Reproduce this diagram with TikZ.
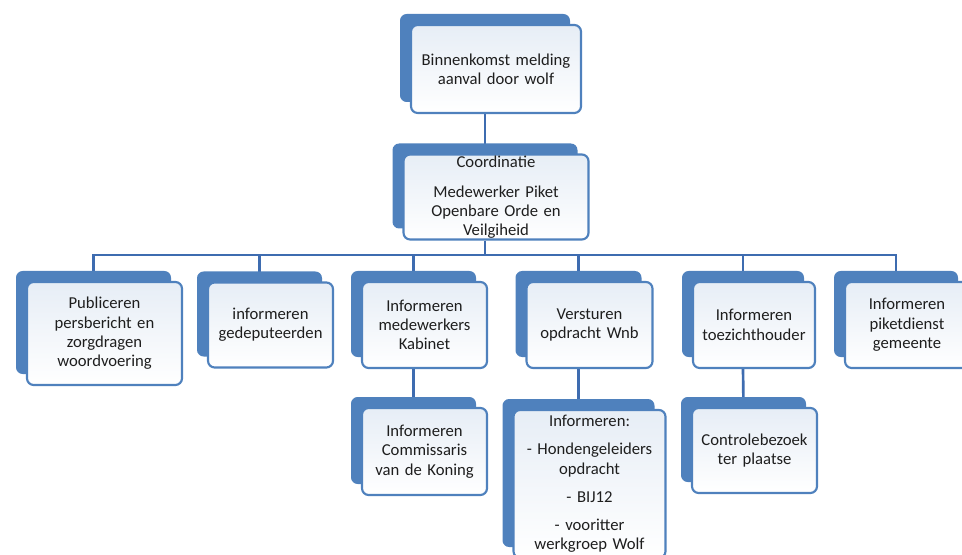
\documentclass[tikz,border=0pt]{standalone}
\usepackage{fontspec}
\setmainfont{Carlito}
\usetikzlibrary{shadows,backgrounds}
\definecolor{boxblue}{RGB}{79,129,189}
\definecolor{linkblue}{RGB}{62,108,176}
\definecolor{boxtext}{RGB}{30,30,30}

\begin{document}
\begin{tikzpicture} [x = 0.75pt, y = -0.75pt,
  box/.style = {draw = boxblue, line width = 1.6pt, rounded corners = 5pt, top color = boxblue!14, bottom color = white, text = boxtext, align = center, inner sep = 0pt, font = \fontsize{12.5}{14.5}\selectfont, general shadow = {fill = boxblue, shadow xshift = -8.25pt, shadow yshift = 8.25pt}},
  link/.style = {draw = linkblue, line width = 2pt}]
\path[use as bounding box, clip] (0, 0) rectangle (962, 555);
\node[box, text width = 127.5pt, minimum height = 66pt] (melding) at (496, 69){Binnenkomst melding\\aanval door wolf};
\node[box, text width = 138.75pt, minimum height = 63.75pt] (coord) at (496, 197){Coordinatie\\[8pt]Medewerker Piket\\Openbare Orde en\\Veilgiheid};
\node[box, text width = 116.25pt, minimum height = 77.25pt] (pers) at (104.5, 333.5){Publiceren\\persbericht en\\zorgdragen\\woordvoering};
\node[box, text width = 93.75pt, minimum height = 63.75pt] (gedep) at (270.5, 325){informeren\\gedeputeerden};
\node[box, text width = 93.75pt, minimum height = 64.5pt] (kabinet) at (424.5, 325){Informeren\\medewerkers\\Kabinet};
\node[box, text width = 94.5pt, minimum height = 64.5pt] (wnb) at (589.5, 325){Versturen\\opdracht Wnb};
\node[box, text width = 91.5pt, minimum height = 64.5pt] (toezicht) at (754, 325){Informeren\\toezichthouder};
\node[box, text width = 93pt, minimum height = 64.5pt] (piket) at (907, 325){Informeren\\piketdienst\\gemeente};
\node[box, text width = 93.75pt, minimum height = 65.25pt] (cdk) at (424.5, 451.5){Informeren\\Commissaris\\van de Koning};
\node[box, text width = 114pt, minimum height = 111pt] (honden) at (589.5, 484){Informeren:\\[6.5pt]- Hondengeleiders\\opdracht\\[6.5pt]- BIJ12\\[6.5pt]- vooritter\\werkgroep Wolf};
\node[box, text width = 93.75pt, minimum height = 63.75pt] (controle) at (754.5, 450.5){Controlebezoek\\ter plaatse};
\coordinate (bus) at (485, 255);
\begin{scope}[on background layer]
\draw[link] ([xshift = -8.25pt]melding.south) -- ([xshift = -8.25pt]coord.north);
\draw[link] ([xshift = -8.25pt]coord.south) -- (bus);
\draw[link] ([xshift = -8.25pt]pers.north) |- (bus) -| ([xshift = -8.25pt]piket.north);
\draw[link] ([xshift = -8.25pt]gedep.north) |- (bus);
\draw[link] ([xshift = -8.25pt]kabinet.north) |- (bus);
\draw[link] ([xshift = -8.25pt]wnb.north) |- (bus);
\draw[link] ([xshift = -8.25pt]toezicht.north) |- (bus);
\draw[link] ([xshift = -8.25pt]kabinet.south) -- ([xshift = -8.25pt]cdk.north);
\draw[link] ([xshift = -8.25pt]wnb.south) -- ([xshift = -8.25pt]honden.north);
\draw[link] ([xshift = -8.25pt]toezicht.south) -- ([xshift = -8.25pt]controle.north);
\end{scope}
\end{tikzpicture}
\end{document}
